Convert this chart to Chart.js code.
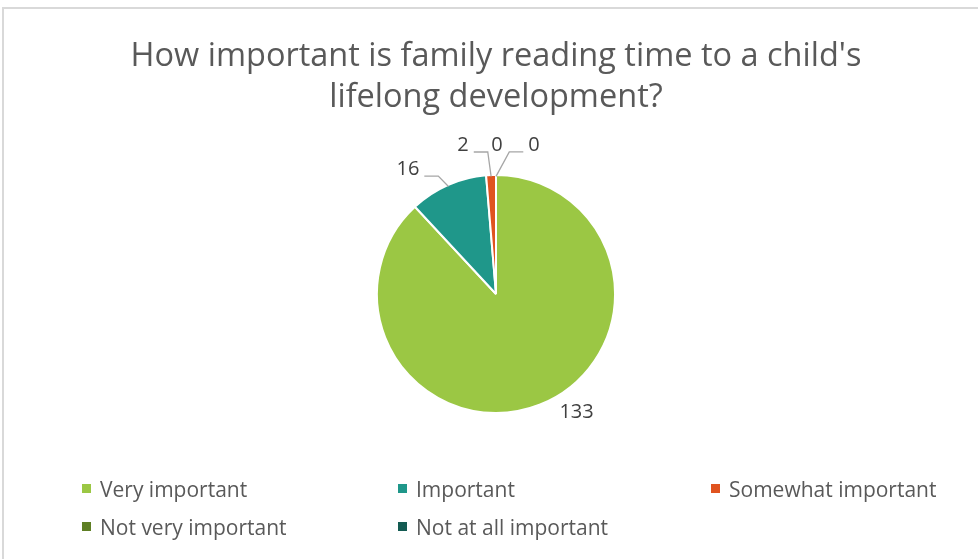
<!DOCTYPE html>
<html>
<head>
<meta charset="utf-8">
<script src="https://cdn.jsdelivr.net/npm/chart.js@4/dist/chart.umd.min.js"></script>
<style>
  html, body { margin: 0; padding: 0; background: #fff; }
  #wrap { position: relative; width: 978px; height: 559px; overflow: hidden; }
  #frame { position: absolute; left: 2px; top: 7px; width: 1000px; height: 600px;
           border-left: 2px solid #d9d9d9; border-top: 2px solid #d9d9d9; box-sizing: border-box; }
  canvas { position: absolute; left: 0; top: 0; }
  #legend { position: absolute; left: 82px; top: 476px; width: 880px;
            display: grid; grid-template-columns: 316px 313px 250px; row-gap: 13px;
            font-family: "Open Sans", sans-serif; font-size: 21px; color: #595959; }
  .item { display: flex; align-items: center; white-space: nowrap; height: 25px; cursor: default; }
  .swatch { width: 9px; height: 9px; margin-right: 9px; flex: none; }
</style>
</head>
<body>
<div id="wrap">
  <div id="frame"></div>
  <canvas id="chart" width="978" height="559"></canvas>
  <div id="legend"></div>
</div>
<script>
// Survey answers and their counts
const categories = ['Very important', 'Important', 'Somewhat important', 'Not very important', 'Not at all important'];
const responses = [133, 16, 2, 0, 0];
const sliceColors = ['#9bc744', '#1f978a', '#e0531f', '#5e7f24', '#135b52'];
const titleLines = ['How important is family reading time to a child\'s', 'lifelong development?'];

// Where each value label sits relative to the outer edge of its slice,
// and whether a leader line is drawn back to the slice.
const labelPlacement = [
  { dx: 37, dy: 8, leader: false },
  { dx: -40, dy: -16, leader: true },
  { dx: -28, dy: -30, leader: true },
  { dx: 1, dy: -30, leader: false },
  { dx: 38, dy: -30, leader: true }
];

const valueLabels = {
  id: 'valueLabels',
  afterDatasetsDraw(chart, args, opts) {
    const ctx = chart.ctx;
    const meta = chart.getDatasetMeta(0);
    const values = chart.data.datasets[0].data;
    ctx.save();
    ctx.font = opts.font;
    ctx.textAlign = 'center';
    ctx.textBaseline = 'middle';
    meta.data.forEach((arc, i) => {
      const p = arc.getProps(['x', 'y', 'startAngle', 'endAngle', 'outerRadius'], true);
      const mid = (p.startAngle + p.endAngle) / 2;
      const ex = p.x + Math.cos(mid) * p.outerRadius;
      const ey = p.y + Math.sin(mid) * p.outerRadius;
      const pl = opts.placement[i];
      const lx = ex + pl.dx;
      const ly = ey + pl.dy;
      const text = String(values[i]);
      const w = ctx.measureText(text).width;
      if (pl.leader) {
        const side = pl.dx < 0 ? 1 : -1;
        const sx = lx + side * (w / 2 + 5);
        const hx = sx + side * 14;
        const hy = ly + 7;
        ctx.beginPath();
        ctx.strokeStyle = opts.leaderColor;
        ctx.lineWidth = 1.3;
        ctx.moveTo(sx, hy);
        ctx.lineTo(hx, hy);
        ctx.lineTo(ex - Math.cos(mid) * 1.5, ey - Math.sin(mid) * 1.5);
        ctx.stroke();
      }
      ctx.fillStyle = opts.color;
      ctx.fillText(text, lx, ly);
    });
    ctx.restore();
  }
};

const chart = new Chart(document.getElementById('chart'), {
  type: 'pie',
  data: {
    labels: categories,
    datasets: [{
      data: responses,
      backgroundColor: sliceColors,
      borderColor: '#ffffff',
      borderWidth: 2,
      hoverOffset: 0
    }]
  },
  options: {
    responsive: false,
    animation: false,
    events: [],
    layout: { padding: { top: 36, bottom: 145, left: 14, right: 0 } },
    plugins: {
      legend: { display: false },
      tooltip: { enabled: false },
      title: {
        display: true,
        text: titleLines,
        color: '#595959',
        font: { family: '"Open Sans"', size: 32.5, weight: 'normal', lineHeight: 1.26 },
        padding: { top: 0, bottom: 56 }
      },
      valueLabels: {
        placement: labelPlacement,
        font: '20px "Open Sans"',
        color: '#404040',
        leaderColor: '#a6a6a6'
      }
    }
  },
  plugins: [valueLabels]
});

// Legend built from the chart's own legend items
const legendEl = document.getElementById('legend');
chart.options.plugins.legend.labels.generateLabels(chart).forEach(item => {
  const div = document.createElement('div');
  div.className = 'item';
  const sw = document.createElement('span');
  sw.className = 'swatch';
  sw.style.background = item.fillStyle;
  const tx = document.createElement('span');
  tx.textContent = item.text;
  div.appendChild(sw);
  div.appendChild(tx);
  legendEl.appendChild(div);
});
</script>
</body>
</html>
